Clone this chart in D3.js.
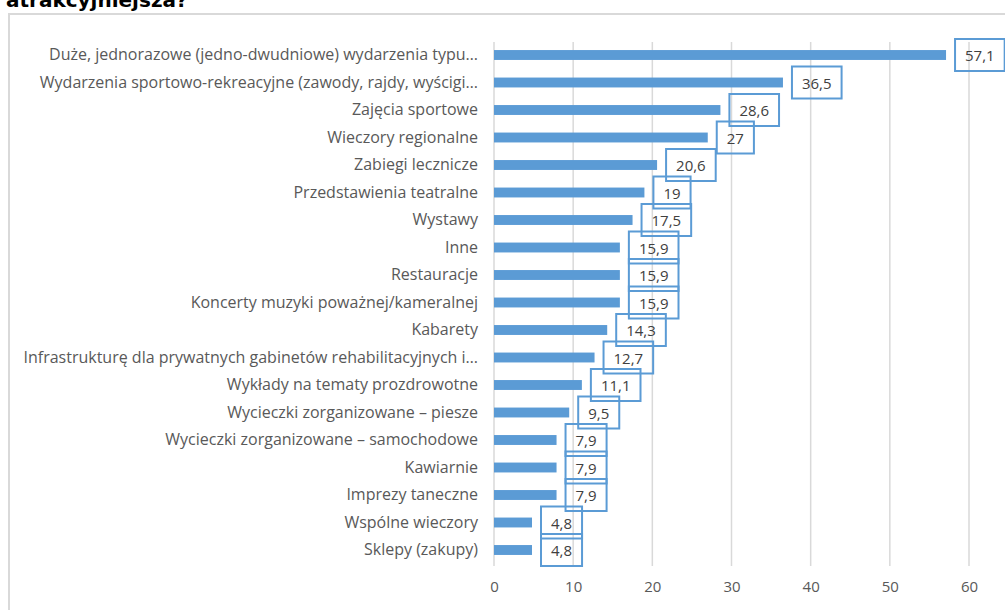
<!DOCTYPE html>
<html>
<head>
<meta charset="utf-8">
<script src="https://cdn.jsdelivr.net/npm/d3@7"></script>
<style>
  html, body { margin: 0; padding: 0; background: #fff; }
  svg { display: block; }
</style>
</head>
<body>
<svg id="chart" width="1005" height="610"></svg>
<script>
const categories = [
  "Duże, jednorazowe (jedno-dwudniowe) wydarzenia typu…",
  "Wydarzenia sportowo-rekreacyjne (zawody, rajdy, wyścigi…",
  "Zajęcia sportowe",
  "Wieczory regionalne",
  "Zabiegi lecznicze",
  "Przedstawienia teatralne",
  "Wystawy",
  "Inne",
  "Restauracje",
  "Koncerty muzyki poważnej/kameralnej",
  "Kabarety",
  "Infrastrukturę dla prywatnych gabinetów rehabilitacyjnych i…",
  "Wykłady na tematy prozdrowotne",
  "Wycieczki zorganizowane – piesze",
  "Wycieczki zorganizowane – samochodowe",
  "Kawiarnie",
  "Imprezy taneczne",
  "Wspólne wieczory",
  "Sklepy (zakupy)"
];
const values = [57.1, 36.5, 28.6, 27, 20.6, 19, 17.5, 15.9, 15.9, 15.9, 14.3, 12.7, 11.1, 9.5, 7.9, 7.9, 7.9, 4.8, 4.8];
const tickValues = [0, 10, 20, 30, 40, 50, 60];
const titleText = "atrakcyjniejsza?";

const svg = d3.select("#chart");
const fontFamily = "'Open Sans', 'Noto Sans', sans-serif";
const textColor = "#595959";
const barColor = "#5b9bd5";

// title (last line of a heading that continues above the page)
svg.append("text")
  .attr("x", 6).attr("y", 7)
  .attr("font-family", "'DejaVu Sans', Verdana, sans-serif")
  .attr("font-weight", "bold")
  .attr("font-size", 20)
  .attr("fill", "#000")
  .text(titleText);

// chart area frame
svg.append("rect")
  .attr("x", 9).attr("y", 14)
  .attr("width", 1010).attr("height", 610)
  .attr("fill", "none")
  .attr("stroke", "#d9d9d9")
  .attr("stroke-width", 2);

const x = d3.scaleLinear().domain([0, 60]).range([494, 969]);
const y = d3.scaleBand().domain(categories).range([41.25, 563.75]).paddingInner(0.64).paddingOuter(0.32);

// gridlines
svg.append("g")
  .selectAll("line")
  .data(tickValues)
  .join("line")
  .attr("x1", d => x(d)).attr("x2", d => x(d))
  .attr("y1", 42).attr("y2", 566)
  .attr("stroke", "#d9d9d9")
  .attr("stroke-width", 1.5);

// x tick labels
const xAxis = d3.axisBottom(x).tickValues(tickValues).tickSize(0).tickPadding(0);
const gx = svg.append("g").attr("transform", "translate(0,581)").call(xAxis);
gx.select(".domain").remove();
gx.selectAll("text")
  .attr("font-family", fontFamily)
  .attr("font-size", 15)
  .attr("fill", textColor);

// category labels
const yAxis = d3.axisLeft(y).tickSize(0).tickPadding(0);
const gy = svg.append("g").attr("transform", "translate(478,0)").call(yAxis);
gy.select(".domain").remove();
gy.selectAll("text")
  .attr("font-family", fontFamily)
  .attr("font-size", 16)
  .attr("fill", textColor);

// bars
const rows = categories.map((c, i) => ({ c, v: values[i] }));
svg.append("g")
  .selectAll("rect")
  .data(rows)
  .join("rect")
  .attr("x", x(0))
  .attr("y", d => y(d.c))
  .attr("width", d => x(d.v) - x(0))
  .attr("height", y.bandwidth())
  .attr("fill", barColor);

// value labels with outlined boxes
const fmt = v => String(v).replace(".", ",");
const lbl = svg.append("g");
rows.forEach(d => {
  const cy = y(d.c) + y.bandwidth() / 2;
  const left = x(d.v) + 9;
  const t = lbl.append("text")
    .attr("font-family", fontFamily)
    .attr("font-size", 15)
    .attr("fill", "#404040")
    .attr("dominant-baseline", "central")
    .attr("x", left + 10)
    .attr("y", cy)
    .text(fmt(d.v));
  const w = t.node().getComputedTextLength();
  lbl.insert("rect", "text")
    .attr("x", left)
    .attr("y", cy - 16)
    .attr("width", w + 20)
    .attr("height", 32)
    .attr("fill", "none")
    .attr("stroke", barColor)
    .attr("stroke-width", 2);
});
</script>
</body>
</html>
